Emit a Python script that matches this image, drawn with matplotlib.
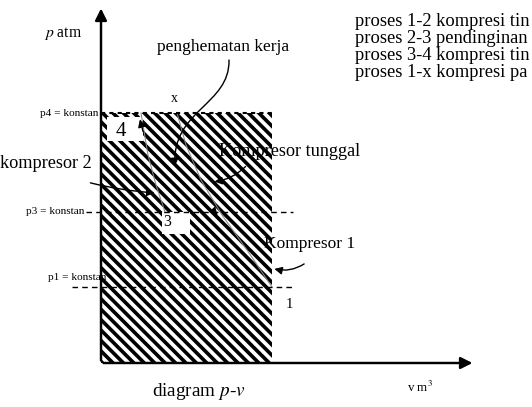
import matplotlib.pyplot as plt
from matplotlib.patches import Rectangle, FancyArrowPatch
from matplotlib.path import Path

plt.rcParams['font.family'] = ['Liberation Serif', 'DejaVu Serif']
plt.rcParams['mathtext.fontset'] = 'stix'
plt.rcParams['hatch.linewidth'] = 2.1

# pressure levels, measured as height above the v axis
p_names = ['p1', 'p3', 'p4']
p_levels = [76, 151, 250]
v_state1 = 171  # volume at state 1 (right edge of the work area)

# single-stage compression 1 -> x
curve_1x_v = [171, 146, 121, 100, 85, 76]
curve_1x_p = [76, 113, 148, 183, 218, 250]
# second stage 3 -> 4
curve_34_v = [64, 55, 47, 40]
curve_34_p = [151, 178, 208, 250]

# legend text, only the part visible in the cropped source
process_lines = [
    "proses 1-2 kompresi tin",
    "proses 2-3 pendinginan",
    "proses 3-4 kompresi tin",
    "proses 1-x kompresi pa",
]


def at(px, py):
    # layout helper: picture pixel -> data coordinates
    return px - 101, 363 - py


fig = plt.figure(figsize=(532 / 125, 407 / 125), dpi=125)
ax = fig.add_axes([0, 0, 1, 1])
ax.set_xlim(-101, 431)
ax.set_ylim(-44, 363)
ax.axis('off')

p1, p3, p4 = p_levels

# hatched work area
ax.add_patch(Rectangle((0, 0), v_state1, p4, facecolor='white', edgecolor='black',
                       hatch='\\\\\\\\', linewidth=0, zorder=1))

# white boxes behind the state numbers
for (bx, by, bw, bh) in [(107, 117, 36, 24), (162, 212, 28, 22)]:
    x0, y0 = at(bx, by + bh)
    ax.add_patch(Rectangle((x0, y0), bw, bh, facecolor='white', edgecolor='none', zorder=2))

# compression curves
ax.plot(curve_1x_v, curve_1x_p, color='#888888', lw=0.6, zorder=3)
ax.plot(curve_34_v, curve_34_p, color='#888888', lw=0.6, zorder=3)

# constant pressure lines
ax.plot([0, v_state1], [p4, p4], color='black', lw=1.2, ls=(0, (2, 2)), zorder=3)
ax.plot([-15, 192], [p3, p3], color='black', lw=0.8, ls=(0, (4, 3)), zorder=3)
ax.plot([-29, 192], [p1, p1], color='black', lw=0.8, ls=(0, (4, 3)), zorder=3)

# axes with arrows
ax.annotate('', xy=at(101, 5), xytext=at(101, 364),
            arrowprops=dict(arrowstyle='-|>', color='black', lw=1.4, mutation_scale=14))
ax.annotate('', xy=at(476, 363), xytext=at(100, 363),
            arrowprops=dict(arrowstyle='-|>', color='black', lw=1.4, mutation_scale=14))


def curved_arrow(points, rad):
    ax.add_patch(FancyArrowPatch(at(*points[0]), at(*points[1]),
                                 connectionstyle=f'arc3,rad={rad}', arrowstyle='-|>',
                                 mutation_scale=9, color='black', lw=0.8, zorder=4))


# penghematan kerja arrow (S-shaped)
verts = [at(229, 60), at(230, 105), at(172, 110), at(175, 166)]
ax.add_patch(FancyArrowPatch(path=Path(verts, [Path.MOVETO, Path.CURVE4, Path.CURVE4, Path.CURVE4]),
                             arrowstyle='-|>', mutation_scale=9, color='black', lw=0.8, zorder=4))
curved_arrow([(87, 182), (158, 193)], 0.05)
curved_arrow([(248, 164), (211, 182)], -0.2)
curved_arrow([(307, 262), (271, 268)], -0.25)
curved_arrow([(144, 135), (139, 116)], 0.0)
curved_arrow([(211, 208), (220, 218)], 0.0)

# labels
ax.text(*at(44, 33), r'$p$ atm', fontsize=9, ha='left', va='center')
ax.text(*at(157, 47), 'penghematan kerja', fontsize=10, ha='left', va='center')
ax.text(*at(174, 98), 'x', fontsize=8, ha='center', va='center')
ax.text(*at(121, 132), '4', fontsize=12, ha='center', va='center', zorder=5)
ax.text(*at(167, 222), '3', fontsize=9, ha='center', va='center', zorder=5)
ax.text(*at(289, 305), '1', fontsize=8.5, ha='center', va='center')
ax.text(*at(0, 164), 'kompresor 2', fontsize=10.5, ha='left', va='center')
ax.text(*at(219, 151), 'Kompresor tunggal', fontsize=10.5, ha='left', va='center', zorder=5)
ax.text(*at(264, 244), 'Kompresor 1', fontsize=10, ha='left', va='center')
ax.text(*at(152, 392), r'diagram $p$-$v$', fontsize=11, ha='left', va='center')
ax.text(*at(407, 387), 'v m$^3$', fontsize=7.5, ha='left', va='center')

for name, y_px, x_px in [('p4', 113, 98), ('p3', 211, 84), ('p1', 278, 106)]:
    ax.text(*at(x_px, y_px), f'{name} = konstan', fontsize=6.5, ha='right', va='center', zorder=5)

for i, line in enumerate(process_lines):
    ax.text(*at(355, 22 + i * 16.8), line, fontsize=10.7, ha='left', va='center')

fig.savefig('out.png', dpi=125)
